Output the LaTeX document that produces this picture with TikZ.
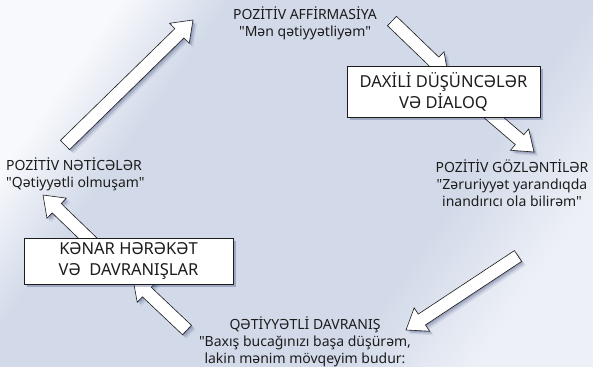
\documentclass[tikz,border=0pt]{standalone}
\usepackage{fontspec}
\newfontfamily\cyclefont{Noto Sans}
\usetikzlibrary{shadows}

\definecolor{bglight}{HTML}{F8F9FC}
\definecolor{bgblue}{HTML}{D2DAE9}
\definecolor{shadeblue}{HTML}{27356A}
\definecolor{inkgray}{HTML}{1C1C1C}

\pgfdeclarehorizontalshading{cycleback}{100bp}{color(0bp)=(bglight); color(25bp)=(bglight); color(34bp)=(bgblue); color(64bp)=(bgblue); color(75bp)=(bglight!70!bgblue); color(100bp)=(bglight!70!bgblue)}

\tikzset{
  cyclelabel/.style={align=center, inner sep=0pt, text=inkgray,
    font=\cyclefont\fontsize{14}{17}\selectfont},
  thoughtbox/.style={draw=inkgray, line width=0.6pt, fill=white, align=center,
    inner sep=0pt, text=inkgray, font=\cyclefont\fontsize{16.5}{21}\selectfont,
    drop shadow={shadow xshift=3pt, shadow yshift=-3pt, fill=shadeblue, opacity=0.3}},
  arrowbody/.style={draw=inkgray, line width=0.6pt, fill=white, line join=miter}
}

% block arrow from #1 to #2
\newcommand{\arrowoutline}{(0pt,-6.5pt) -- (\arrlen pt-19pt,-6.5pt) -- (\arrlen pt-19pt,-14pt)
  -- (\arrlen pt,0pt) -- (\arrlen pt-19pt,14pt) -- (\arrlen pt-19pt,6.5pt) -- (0pt,6.5pt) -- cycle}
\newcommand{\cyclearrow}[2]{%
  \pgfpointdiff{\pgfpointanchor{#1}{center}}{\pgfpointanchor{#2}{center}}%
  \pgfgetlastxy{\arrdx}{\arrdy}%
  \pgfmathsetmacro{\arrang}{atan2(\arrdy,\arrdx)}%
  \pgfmathsetmacro{\arrlen}{veclen(\arrdx,\arrdy)}%
  \foreach \off/\op in {1/0.22,2.5/0.18,4/0.1}{%
    \fill[shadeblue, opacity=\op, shift={(#1)}, shift={(\off pt,-\off pt)}, rotate=\arrang] \arrowoutline;}
  \draw[arrowbody, shift={(#1)}, rotate=\arrang] \arrowoutline;}

\begin{document}
\begin{tikzpicture}[x=1pt, y=-1pt]
  \useasboundingbox (0,0) rectangle (593,366);
  \shade[shading=cycleback, shading angle=-35] (0,0) rectangle (593,366);

  % arrow ends
  \coordinate (resultout) at (65,145);
  \coordinate (affirmin) at (193,20);
  \coordinate (affirmout) at (392,21);
  \coordinate (innerin) at (448,75);
  \coordinate (innerout) at (485,110);
  \coordinate (expectin) at (534,152);
  \coordinate (expectout) at (518,256);
  \coordinate (behavein) at (406,330);
  \coordinate (behaveout) at (187,330);
  \coordinate (outerin) at (133,279);
  \coordinate (outerout) at (100,250);
  \coordinate (resultin) at (43,195);

  \cyclearrow{resultout}{affirmin}
  \cyclearrow{affirmout}{innerin}
  \cyclearrow{innerout}{expectin}
  \cyclearrow{expectout}{behavein}
  \cyclearrow{behaveout}{outerin}
  \cyclearrow{outerout}{resultin}

  \node[thoughtbox, minimum width=193pt, minimum height=51pt] (inner) at (443.5,91.5)
    {DAXİLİ DÜŞÜNCƏLƏR\\VƏ DİALOQ};
  \node[thoughtbox, minimum width=209pt, minimum height=46pt] (outer) at (128.5,261)
    {KƏNAR HƏRƏKƏT\\VƏ\ \ DAVRANIŞLAR};

  \node[cyclelabel] (affirm) at (305,23) {POZİTİV AFFİRMASİYA\\"Mən qətiyyətliyəm"};
  \node[cyclelabel] (expect) at (512,183)
    {POZİTİV GÖZLƏNTİLƏR\\"Zəruriyyət yarandıqda\\inandırıcı ola bilirəm"};
  \node[cyclelabel, anchor=north] (behave) at (305,316)
    {QƏTİYYƏTLİ DAVRANIŞ\\"Baxış bucağınızı başa düşürəm,\\lakin mənim mövqeyim budur:};
  \node[cyclelabel, anchor=west, align=left] (result) at (6,174)
    {POZİTİV NƏTİCƏLƏR\\"Qətiyyətli olmuşam"};
\end{tikzpicture}
\end{document}
